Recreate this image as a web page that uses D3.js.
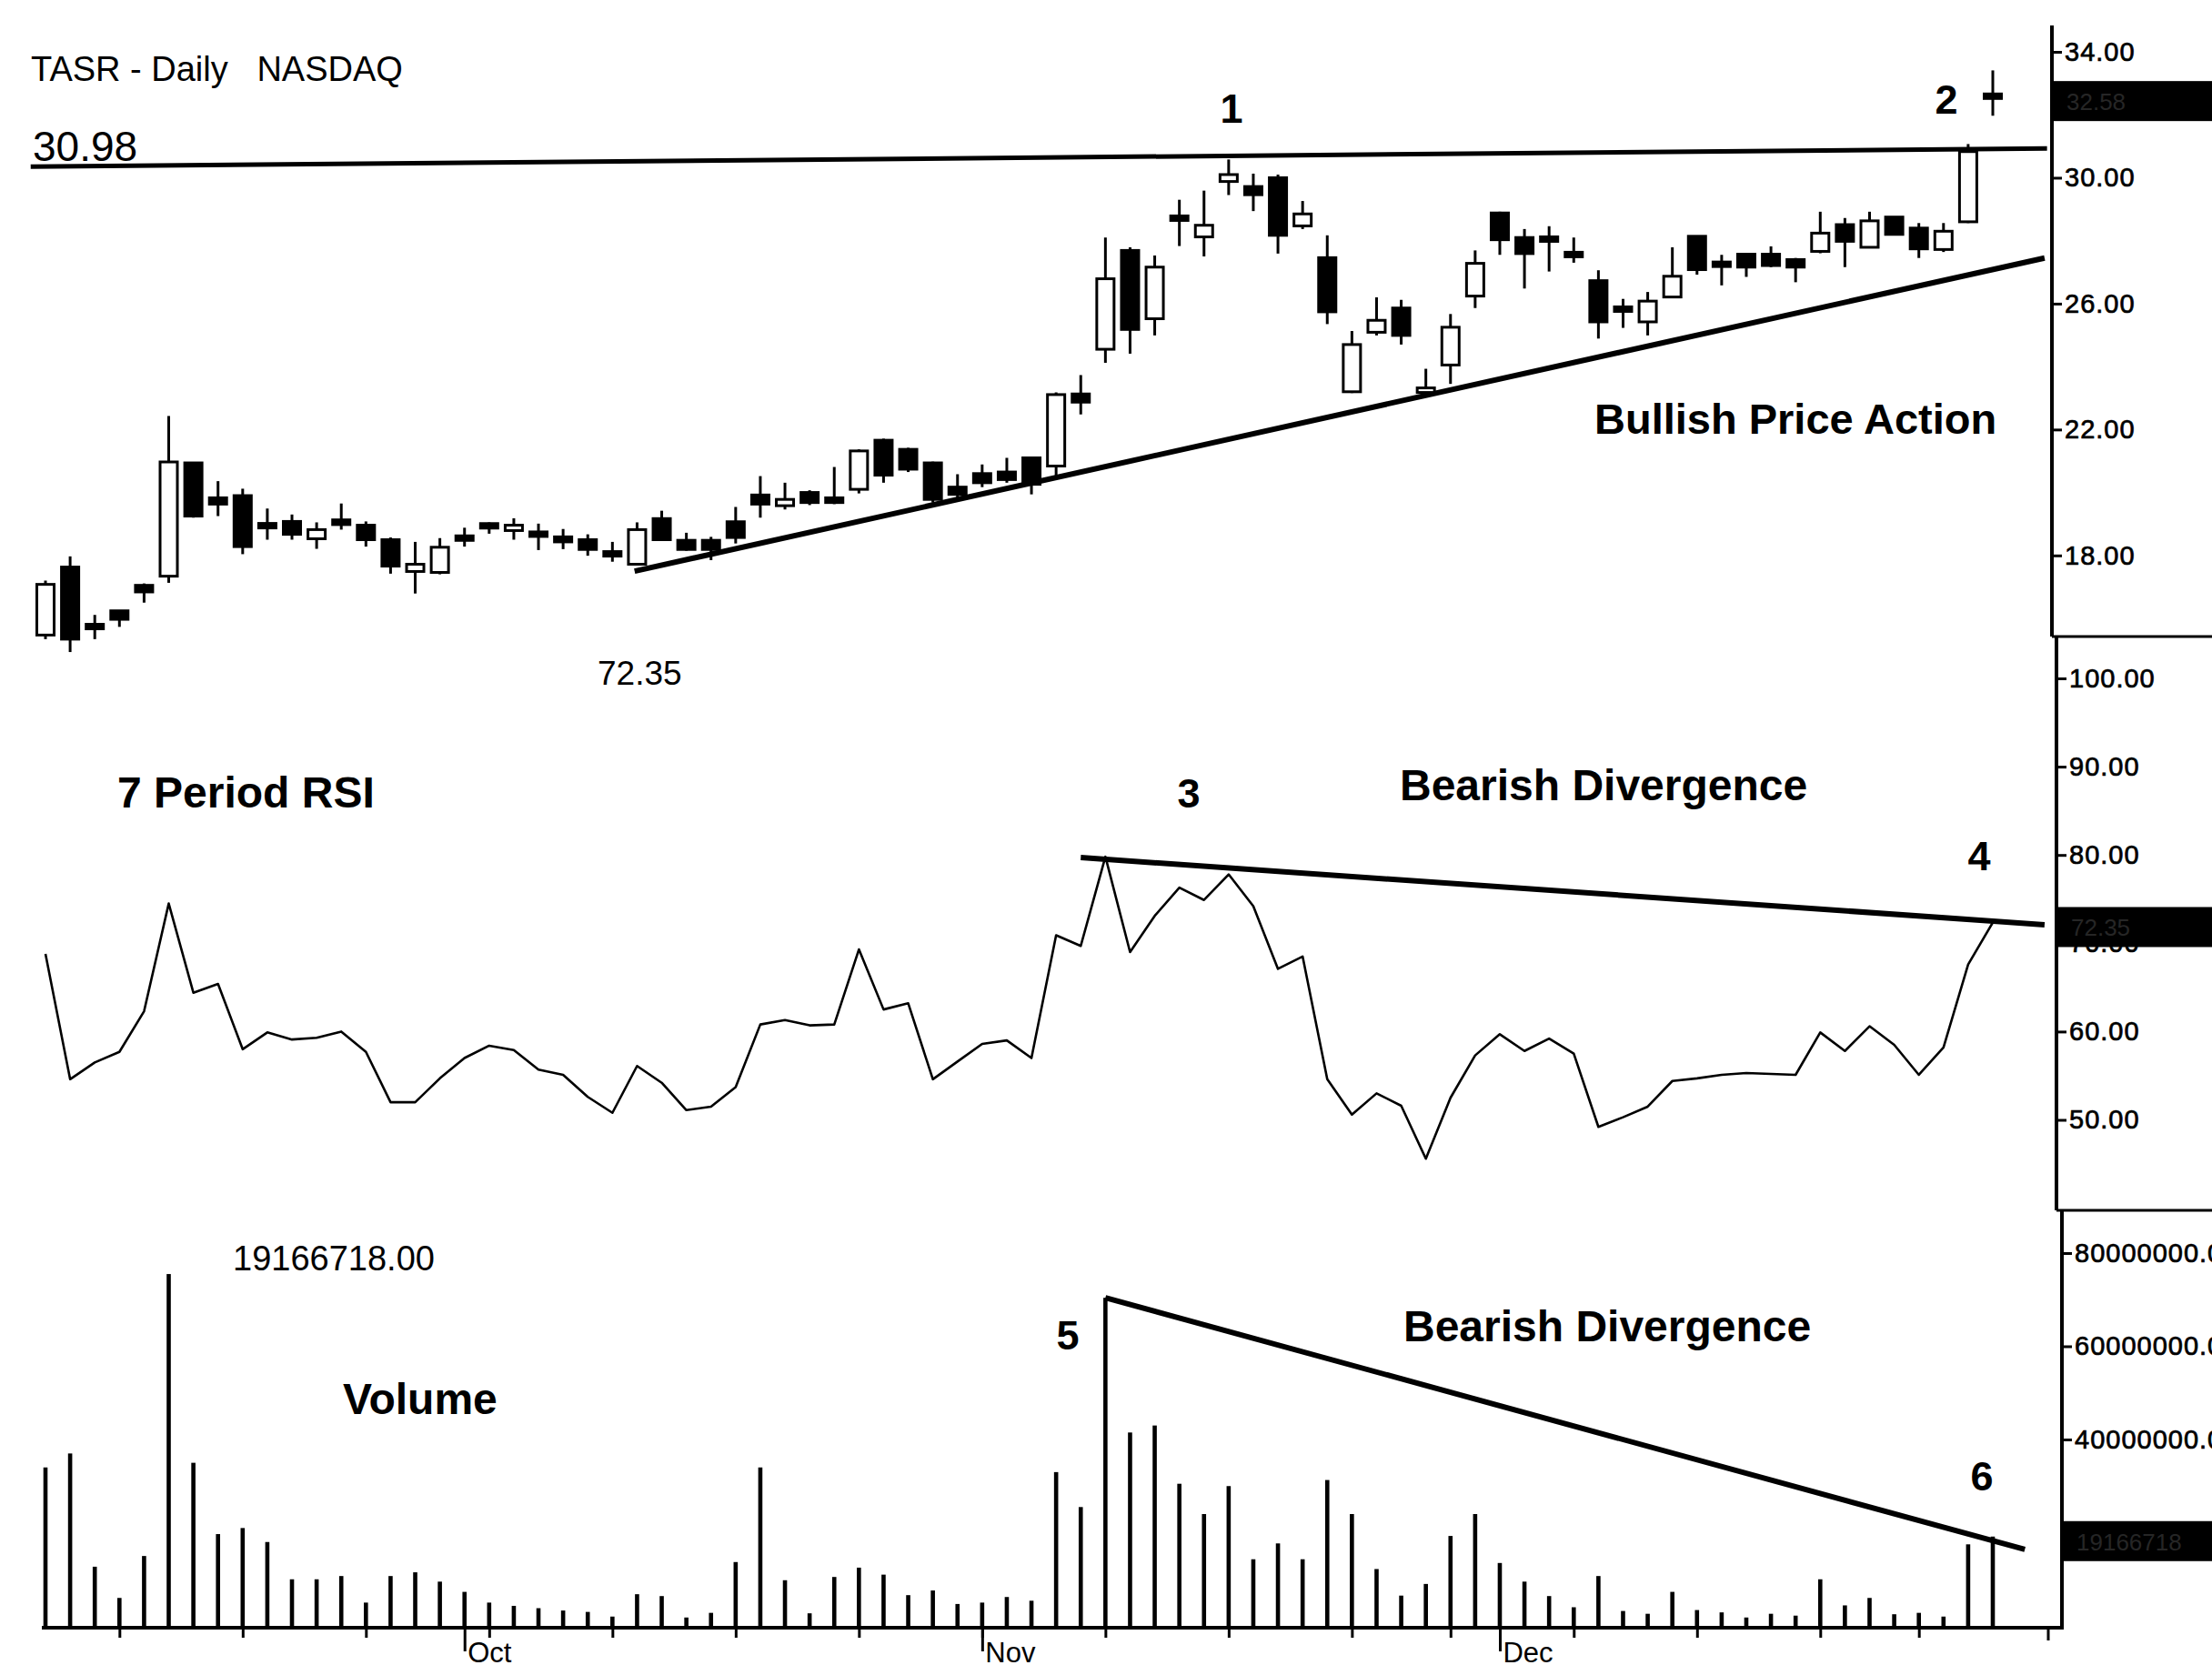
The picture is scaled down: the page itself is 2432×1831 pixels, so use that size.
<!DOCTYPE html>
<html><head><meta charset="utf-8">
<script src="https://cdn.jsdelivr.net/npm/d3@7"></script>
<style>html,body{margin:0;padding:0;background:#fff;overflow:hidden}</style>
</head><body>
<svg id="c" width="2432" height="1831" xmlns="http://www.w3.org/2000/svg"></svg>
<script>
// ---------------- DATA ----------------
const dates = ["2004-09-08","2004-09-09","2004-09-10","2004-09-13","2004-09-14","2004-09-15","2004-09-16","2004-09-17","2004-09-20","2004-09-21","2004-09-22","2004-09-23","2004-09-24","2004-09-27","2004-09-28","2004-09-29","2004-09-30","2004-10-01","2004-10-04","2004-10-05","2004-10-06","2004-10-07","2004-10-08","2004-10-11","2004-10-12","2004-10-13","2004-10-14","2004-10-15","2004-10-18","2004-10-19","2004-10-20","2004-10-21","2004-10-22","2004-10-25","2004-10-26","2004-10-27","2004-10-28","2004-10-29","2004-11-01","2004-11-02","2004-11-03","2004-11-04","2004-11-05","2004-11-08","2004-11-09","2004-11-10","2004-11-11","2004-11-12","2004-11-15","2004-11-16","2004-11-17","2004-11-18","2004-11-19","2004-11-22","2004-11-23","2004-11-24","2004-11-26","2004-11-29","2004-11-30","2004-12-01","2004-12-02","2004-12-03","2004-12-06","2004-12-07","2004-12-08","2004-12-09","2004-12-10","2004-12-13","2004-12-14","2004-12-15","2004-12-16","2004-12-17","2004-12-20","2004-12-21","2004-12-22","2004-12-23","2004-12-27","2004-12-28","2004-12-29","2004-12-30"];

const openP  = [15.47,17.63,15.76,16.24,17.05,17.34,20.94,19.83,19.90,18.97,19.08,18.53,19.13,18.96,18.50,17.49,17.46,18.60,19.00,18.79,18.70,18.59,18.50,18.06,17.72,19.17,18.48,18.48,19.07,19.92,19.58,20.00,19.83,20.10,21.66,21.37,20.94,20.17,20.60,20.65,21.10,20.84,23.13,24.55,27.69,25.52,28.78,28.12,29.88,29.72,30.00,28.47,27.46,23.20,25.09,25.86,23.20,24.05,26.24,28.88,28.10,28.10,27.60,26.73,25.85,25.42,26.21,28.14,27.27,27.57,27.57,27.40,27.66,28.51,27.79,28.75,28.40,27.72,28.60,32.60];
const highP  = [17.20,17.97,16.11,16.26,17.11,22.43,20.96,20.36,20.12,19.49,19.30,19.05,19.65,19.08,18.57,18.43,18.55,18.88,19.05,19.18,19.01,18.84,18.67,18.43,19.05,19.42,18.72,18.59,19.54,20.52,20.31,20.07,20.81,21.37,21.71,21.42,20.98,20.58,20.89,21.10,21.12,23.18,23.73,28.10,27.79,27.53,29.30,29.59,30.58,30.13,30.10,29.26,28.17,25.13,26.20,26.12,23.93,25.67,27.69,28.92,28.37,28.46,28.10,27.06,26.15,26.37,27.79,28.16,27.55,27.60,27.82,27.45,28.92,28.72,28.92,28.77,28.56,28.56,31.07,33.41];
const lowP   = [15.34,14.93,15.34,15.73,16.50,17.13,19.20,19.25,18.04,18.50,18.50,18.21,18.82,18.28,17.42,16.79,17.40,18.28,18.69,18.50,18.17,18.20,17.99,17.80,17.70,18.46,18.15,17.85,18.38,19.20,19.46,19.60,19.63,19.97,20.31,20.65,19.68,19.83,20.17,20.31,19.94,20.52,22.48,24.12,24.41,24.99,27.83,27.50,29.45,28.94,27.59,28.37,25.35,23.16,24.99,24.70,23.11,23.45,25.86,27.55,26.48,27.02,27.30,24.89,25.23,24.99,26.20,26.92,26.58,26.85,27.16,26.68,27.60,27.16,27.77,28.17,27.45,27.64,28.56,31.97];
const closeP = [17.08,15.34,15.72,15.97,16.84,20.97,19.25,19.63,18.28,18.92,18.67,18.82,18.98,18.50,17.66,17.72,18.26,18.50,18.88,18.96,18.65,18.43,18.19,18.04,18.82,18.50,18.19,18.19,18.57,19.63,19.78,19.68,19.68,21.32,20.55,20.74,19.78,19.94,20.31,20.41,20.26,23.11,22.87,26.79,25.18,27.16,28.65,28.49,30.10,29.46,28.17,28.85,25.74,24.70,25.47,24.99,23.30,25.25,27.28,28.03,27.59,28.00,27.52,25.42,25.80,26.08,26.87,27.08,27.23,27.16,27.21,27.16,28.24,27.98,28.63,28.20,27.74,28.30,30.83,32.58];

const rsi7 = [68.8,54.6,56.5,57.7,62.3,74.5,64.4,65.4,58.0,59.9,59.1,59.3,60.0,57.7,52.0,52.0,54.7,57.0,58.4,57.9,55.7,55.1,52.6,50.8,56.1,54.2,51.1,51.5,53.7,60.8,61.3,60.7,60.8,69.3,62.5,63.2,54.6,56.6,58.6,59.0,57.0,70.9,69.7,79.8,69.0,73.1,76.3,74.9,77.8,74.2,67.1,68.5,54.6,50.6,53.0,51.6,45.6,52.5,57.3,59.7,57.8,59.2,57.5,49.2,50.3,51.5,54.4,54.7,55.1,55.3,55.2,55.1,59.9,57.8,60.6,58.5,55.1,58.2,67.6,72.35];

const volume = [34000000,37000000,12700000,6000000,15000000,75500000,35000000,19700000,21000000,18000000,10000000,10000000,10700000,5000000,10700000,11500000,9500000,7300000,5000000,4300000,3800000,3300000,3000000,2000000,6800000,6400000,1800000,2800000,13700000,34000000,9800000,2700000,10500000,12500000,11000000,6600000,7600000,4700000,5000000,6200000,5400000,33000000,25500000,70400000,41500000,43000000,30500000,24000000,30000000,14300000,17700000,14300000,31300000,24000000,12200000,6500000,9000000,19300000,24000000,13500000,9500000,6400000,4000000,10700000,3200000,2600000,7300000,3400000,2900000,1800000,2600000,2200000,10000000,4400000,6000000,2500000,2800000,2000000,17500000,19166718];

const priceTicks = [18, 22, 26, 30, 34];
const rsiTicks = [50, 60, 70, 80, 90, 100];
const volTicks = [20000000, 40000000, 60000000, 80000000];
const monthNames = ["Jan","Feb","Mar","Apr","May","Jun","Jul","Aug","Sep","Oct","Nov","Dec"];

// annotation lines: [index, value]
const resistanceLine = [[-0.6, 30.35], [81.2, 30.93]];
const resistanceValue = 30.98;
const supportLine = [[23.9, 17.5], [81.1, 27.45]];
const rsiTrend = [[42.0, 79.7], [81.1, 72.1]];
const volTrend = [[43, 70400000], [80.3, 16400000]];

// ---------------- DRAW ----------------
const FONT = "'Liberation Sans', Arial, Helvetica, sans-serif";
const svg = d3.select("#c");
svg.append("rect").attr("width", 2432).attr("height", 1831).attr("fill", "#fff");

const n = dates.length;
const idx = d3.range(n);
const x = d3.scaleLinear().domain([0, n - 1]).range([50, 2191]);
const yP = d3.scaleLinear().domain([18, 34]).range([610.8, 57]);
const yR = d3.scaleLinear().domain([50, 100]).range([1231.5, 746]);
const yV = d3.scaleLinear().domain([0, 80000000]).range([1788, 1378]);

const axP = 2256, axR = 2261, axV = 2267;

// ---- annotation lines (price) ----
const lineP = d3.line().x(d => x(d[0])).y(d => yP(d[1]));
svg.append("path").attr("d", lineP(resistanceLine)).attr("stroke", "#000").attr("stroke-width", 5).attr("fill", "none");
svg.append("path").attr("d", lineP(supportLine)).attr("stroke", "#000").attr("stroke-width", 6).attr("fill", "none");

// ---- candles ----
const cg = svg.append("g");
const bw = 19;
cg.selectAll("line.wick").data(idx).join("line")
  .attr("x1", i => x(i)).attr("x2", i => x(i))
  .attr("y1", i => yP(highP[i])).attr("y2", i => yP(lowP[i]))
  .attr("stroke", "#000").attr("stroke-width", 3);
cg.selectAll("rect.body").data(idx).join("rect")
  .attr("x", i => x(i) - bw / 2)
  .attr("width", bw)
  .attr("y", i => {
    const t = yP(Math.max(openP[i], closeP[i])), b = yP(Math.min(openP[i], closeP[i]));
    return b - t < 5 ? (t + b) / 2 - 2.5 : t;
  })
  .attr("height", i => Math.max(yP(Math.min(openP[i], closeP[i])) - yP(Math.max(openP[i], closeP[i])), 5))
  .attr("fill", i => closeP[i] >= openP[i] ? "#fff" : "#000")
  .attr("stroke", "#000").attr("stroke-width", 3);

// ---- RSI ----
const lineR = d3.line().x(d => x(d[0])).y(d => yR(d[1]));
svg.append("path").attr("d", d3.line().x(i => x(i)).y(i => yR(rsi7[i]))(idx))
  .attr("stroke", "#000").attr("stroke-width", 2.6).attr("fill", "none").attr("stroke-linejoin", "round");
svg.append("path").attr("d", lineR(rsiTrend)).attr("stroke", "#000").attr("stroke-width", 6).attr("fill", "none");

// ---- Volume ----
svg.append("g").selectAll("rect").data(idx).join("rect")
  .attr("x", i => x(i) - 2.3).attr("width", 4.6)
  .attr("y", i => yV(volume[i])).attr("height", i => yV(0) - yV(volume[i]))
  .attr("fill", "#000");
const lineV = d3.line().x(d => x(d[0])).y(d => yV(d[1]));
svg.append("path").attr("d", lineV(volTrend)).attr("stroke", "#000").attr("stroke-width", 6).attr("fill", "none");

// ---- right axes ----
function styleAxis(g) {
  g.select(".domain").remove();
  g.selectAll(".tick line").attr("stroke", "#000").attr("stroke-width", 3);
  g.selectAll(".tick text").attr("font-family", FONT).attr("font-size", 29)
    .attr("fill", "#000").attr("stroke", "#000").attr("stroke-width", 0.7).attr("letter-spacing", 1);
}
svg.append("g").attr("transform", `translate(${axP},0)`)
  .call(d3.axisRight(yP).tickValues(priceTicks).tickSize(11).tickPadding(3).tickFormat(d3.format(".2f")))
  .call(styleAxis);
svg.append("g").attr("transform", `translate(${axR},0)`)
  .call(d3.axisRight(yR).tickValues(rsiTicks).tickSize(11).tickPadding(3).tickFormat(d3.format(".2f")))
  .call(styleAxis);
svg.append("g").attr("transform", `translate(${axV},0)`)
  .call(d3.axisRight(yV).tickValues(volTicks).tickSize(11).tickPadding(3).tickFormat(d => d.toFixed(2)))
  .call(styleAxis);

// axis verticals and separators
svg.append("line").attr("x1", axP).attr("x2", axP).attr("y1", 28).attr("y2", 700).attr("stroke", "#000").attr("stroke-width", 4);
svg.append("line").attr("x1", axR).attr("x2", axR).attr("y1", 700).attr("y2", 1331).attr("stroke", "#000").attr("stroke-width", 4);
svg.append("line").attr("x1", axV).attr("x2", axV).attr("y1", 1331).attr("y2", 1792).attr("stroke", "#000").attr("stroke-width", 4);
svg.append("line").attr("x1", axP).attr("x2", 2432).attr("y1", 700).attr("y2", 700).attr("stroke", "#000").attr("stroke-width", 3);
svg.append("line").attr("x1", axR).attr("x2", 2432).attr("y1", 1331).attr("y2", 1331).attr("stroke", "#000").attr("stroke-width", 3);

// last value boxes
function lastBox(axX, yc, txt) {
  svg.append("rect").attr("x", axX).attr("y", yc - 17).attr("width", 2432 - axX).attr("height", 44).attr("fill", "#000");
  svg.append("text").attr("x", axX + 16).attr("y", yc + 15).attr("font-family", FONT).attr("font-size", 26)
    .attr("fill", "#262626").text(txt);
}
lastBox(axP, yP(closeP[n - 1]), closeP[n - 1].toFixed(2));
lastBox(axR, yR(rsi7[n - 1]), rsi7[n - 1].toFixed(2));
lastBox(axV, yV(volume[n - 1]), volume[n - 1].toFixed(0));

// ---- x axis ----
const parse = d3.utcParse("%Y-%m-%d");
const dd = dates.map(parse);
const weekIdx = idx.filter(i => dd[i].getUTCDay() === 1);
const monthIdx = idx.filter(i => i > 0 && dd[i].getUTCMonth() !== dd[i - 1].getUTCMonth());
const xg = svg.append("g").attr("transform", "translate(0,1790)");
xg.call(d3.axisBottom(x).tickValues(weekIdx).tickSize(11).tickFormat(""))
  .call(g => { g.select(".domain").remove(); g.selectAll(".tick line").attr("stroke", "#000").attr("stroke-width", 3); });
const mg = svg.append("g").attr("transform", "translate(0,1790)");
mg.call(d3.axisBottom(x).tickValues(monthIdx).tickSize(26).tickPadding(0).tickFormat(i => monthNames[dd[i].getUTCMonth()]))
  .call(g => {
    g.select(".domain").remove();
    g.selectAll(".tick line").attr("stroke", "#000").attr("stroke-width", 3);
    g.selectAll(".tick text").attr("font-family", FONT).attr("font-size", 31).attr("fill", "#000")
      .attr("text-anchor", "start").attr("x", 3).attr("y", 38).attr("dy", 0);
  });
svg.append("line").attr("x1", 46).attr("x2", axV).attr("y1", 1790).attr("y2", 1790).attr("stroke", "#000").attr("stroke-width", 4);
svg.append("line").attr("x1", 2252).attr("x2", 2252).attr("y1", 1790).attr("y2", 1804).attr("stroke", "#000").attr("stroke-width", 3);

// ---- texts ----
function txt(s, xx, yy, size, bold, anchor) {
  return svg.append("text").attr("x", xx).attr("y", yy).attr("font-family", FONT).attr("font-size", size)
    .attr("font-weight", bold ? "bold" : "normal").attr("text-anchor", anchor || "start").attr("fill", "#000")
    .style("white-space", "pre").attr("xml:space", "preserve").text(s);
}
txt("TASR - Daily   NASDAQ", 34, 89, 38, false);
txt(resistanceValue.toFixed(2), 36, 177, 46, false);
txt("1", 1354, 135, 45, true, "middle");
txt("2", 2140, 125, 45, true, "middle");
txt("Bullish Price Action", 1753, 477, 47, true);
txt(rsi7[n - 1].toFixed(2), 657, 753, 37, false);
txt("7 Period RSI", 129, 888, 48, true);
txt("3", 1307, 888, 45, true, "middle");
txt("Bearish Divergence", 1539, 880, 48, true);
txt("4", 2176, 957, 45, true, "middle");
txt(volume[n - 1].toFixed(2), 256, 1397, 38, false);
txt("Volume", 377, 1555, 48, true);
txt("5", 1174, 1484, 45, true, "middle");
txt("Bearish Divergence", 1543, 1475, 48, true);
txt("6", 2179, 1639, 45, true, "middle");
</script>
</body></html>
